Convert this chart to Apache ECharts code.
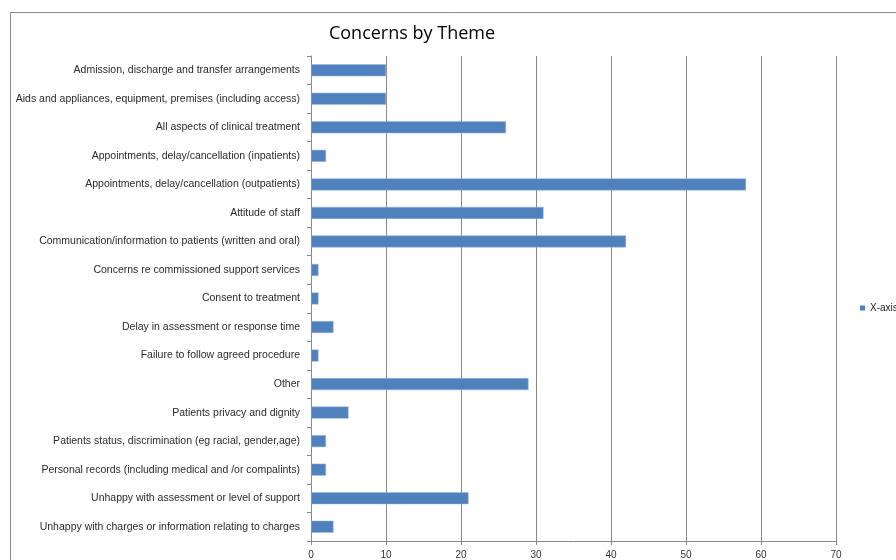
<!DOCTYPE html>
<html>
<head>
<meta charset="utf-8">
<script src="https://cdn.jsdelivr.net/npm/echarts@6/dist/echarts.min.js"></script>
<style>html,body{margin:0;padding:0;background:#fff}#c{width:896px;height:560px}</style>
</head>
<body>
<div id="c"></div>
<script>
const categories = [
  "Admission, discharge and transfer arrangements",
  "Aids and appliances, equipment, premises (including access)",
  "All aspects of clinical treatment",
  "Appointments, delay/cancellation (inpatients)",
  "Appointments, delay/cancellation (outpatients)",
  "Attitude of staff",
  "Communication/information to patients (written and oral)",
  "Concerns re commissioned support services",
  "Consent to treatment",
  "Delay in assessment or response time",
  "Failure to follow agreed procedure",
  "Other",
  "Patients privacy and dignity",
  "Patients status, discrimination (eg racial, gender,age)",
  "Personal records (including medical and /or compalints)",
  "Unhappy with assessment or level of support",
  "Unhappy with charges or information relating to charges"
];
const values = [10, 10, 26, 2, 58, 31, 42, 1, 1, 3, 1, 29, 5, 2, 2, 21, 3];
const seriesName = "X-axis";
const titleText = "Concerns by Theme";

const chart = echarts.init(document.getElementById('c'));
const font = "'Liberation Sans', sans-serif";
chart.setOption({
  animation: false,
  textStyle: {fontFamily: font},
  title: {
    text: titleText, left: 407, top: 20, textAlign: 'center',
    textStyle: {fontSize: 18, fontWeight: 'normal', color: '#000', fontFamily: "'Open Sans', sans-serif"}
  },
  graphic: [{
    type: 'rect', shape: {x: 10.5, y: 12.5, width: 900, height: 600},
    style: {fill: 'none', stroke: '#888', lineWidth: 1}, silent: true, z: -1
  }],
  legend: {
    data: [seriesName], left: 855, top: 298, itemWidth: 5, itemHeight: 5,
    icon: 'rect', itemStyle: {borderWidth: 0},
    textStyle: {fontSize: 10, color: '#222'}
  },
  grid: {left: 311, right: 60, top: 56, bottom: 18, containLabel: false},
  xAxis: {
    type: 'value', min: 0, max: 70, interval: 10,
    axisLine: {show: true, lineStyle: {color: '#888'}},
    axisTick: {show: true, length: 4, lineStyle: {color: '#888'}},
    splitLine: {show: true, lineStyle: {color: '#888', width: 1}},
    axisLabel: {fontSize: 10, color: '#333', margin: 9}
  },
  yAxis: {
    type: 'category', data: categories, inverse: true,
    axisLine: {show: true, lineStyle: {color: '#888'}},
    axisTick: {show: true, length: 4, lineStyle: {color: '#888'}},
    axisLabel: {fontSize: 10.5, color: '#2a2a2a', margin: 11}
  },
  series: [{
    name: seriesName, type: 'bar', data: values,
    barWidth: 12,
    itemStyle: {color: '#4F81BD', borderColor: '#9ab6d8', borderWidth: 0.5}
  }]
});
</script>
</body>
</html>
